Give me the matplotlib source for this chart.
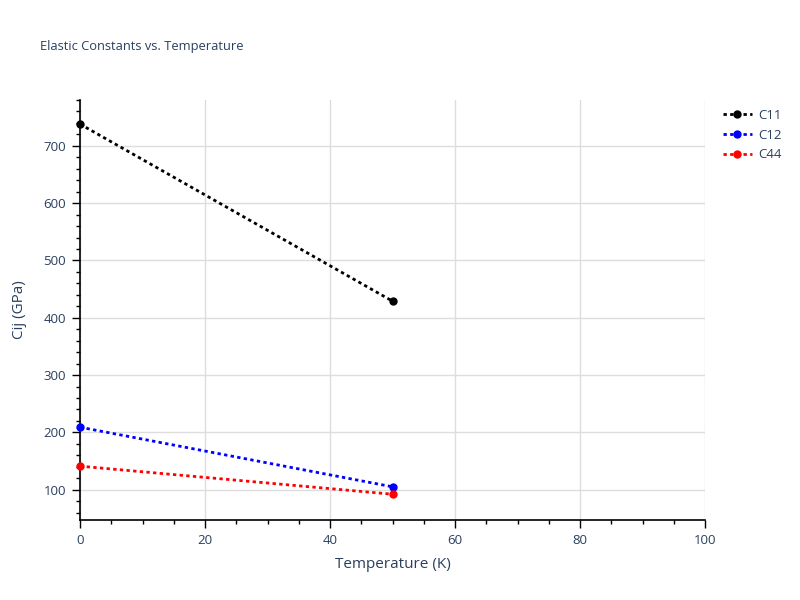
import matplotlib
matplotlib.use("Agg")
import matplotlib.pyplot as plt
from matplotlib.ticker import MultipleLocator

plt.rcParams['font.family'] = ['Open Sans', 'DejaVu Sans']

temperature = [0, 50]
c11 = [738, 429]
c12 = [209, 105]
c44 = [141, 92]
series_names = ["C11", "C12", "C44"]
series_colors = ["black", "blue", "red"]

txt = "#2a3f5f"
fig = plt.figure(figsize=(8, 6), dpi=100)
ax = fig.add_axes([0.1, 0.1333, 0.78125, 0.7])

for vals, name, col in zip([c11, c12, c44], series_names, series_colors):
    ax.plot(temperature, vals, linestyle=(0, (1.2, 1.2)), linewidth=2, color=col,
            marker='o', markersize=5, label=name, clip_on=False, zorder=3)

ax.set_xlim(0, 100)
ax.set_ylim(47, 780)
ax.xaxis.set_major_locator(MultipleLocator(20))
ax.xaxis.set_minor_locator(MultipleLocator(5))
ax.yaxis.set_major_locator(MultipleLocator(100))
ax.yaxis.set_minor_locator(MultipleLocator(20))

ax.grid(True, which='major', color='#dddddd', linewidth=1)
ax.set_axisbelow(True)
for s in ['top', 'right']:
    ax.spines[s].set_visible(False)
for s in ['left', 'bottom']:
    ax.spines[s].set_color('black')
    ax.spines[s].set_linewidth(1.2)

ax.tick_params(axis='both', which='major', direction='out', length=6, width=1,
               color='black', labelcolor=txt, labelsize=9.5, pad=4)
ax.tick_params(axis='both', which='minor', direction='out', length=3, width=1, color='black')

ax.set_xlabel("Temperature (K)", color=txt, fontsize=11, labelpad=7)
ax.set_ylabel("Cij (GPa)", color=txt, fontsize=11, labelpad=12)

fig.text(0.05, 0.923, "Elastic Constants vs. Temperature", color=txt, fontsize=9.3,
         ha='left', va='center')

leg = fig.legend(loc='upper left', bbox_to_anchor=(0.897, 0.827), frameon=False,
                 fontsize=9.5, labelcolor=txt, handlelength=2.2, handletextpad=0.5,
                 labelspacing=0.5, borderaxespad=0)

fig.savefig("out.png", dpi=100)
